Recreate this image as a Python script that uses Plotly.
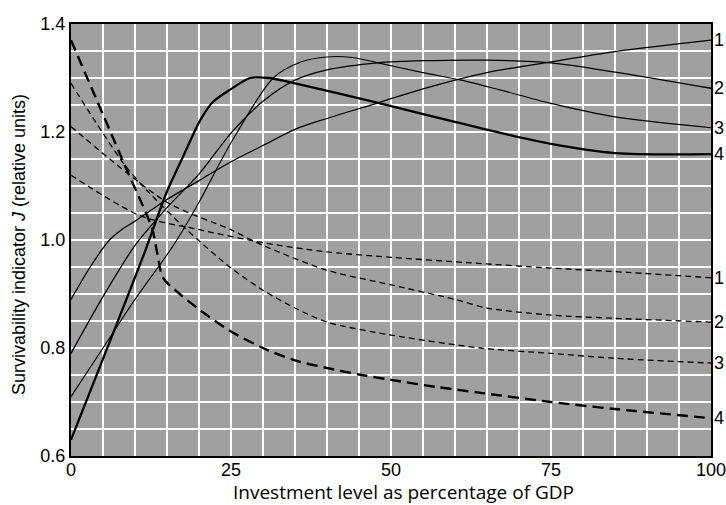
import plotly.graph_objects as go

# Survivability indicator J versus investment level (% of GDP)
# Solid curves 1-4
x_s1 = [0, 3, 6, 8, 10, 15, 20, 25, 30, 35, 40, 48, 55, 65, 75, 85, 100]
y_s1 = [0.89, 0.95, 1.0, 1.02, 1.035, 1.075, 1.11, 1.145, 1.175, 1.205, 1.225, 1.254, 1.28, 1.31, 1.33, 1.349, 1.37]

x_s2 = [0, 5, 10, 15, 20, 25, 30, 35, 40, 48, 55, 65, 75, 85, 100]
y_s2 = [0.79, 0.895, 0.99, 1.06, 1.122, 1.198, 1.257, 1.296, 1.315, 1.328, 1.332, 1.333, 1.328, 1.311, 1.281]

x_s3 = [0, 5, 10, 16, 20, 25, 31.6, 36, 40, 44, 48, 55, 61, 67, 75, 85, 100]
y_s3 = [0.71, 0.8, 0.89, 0.99, 1.07, 1.18, 1.30, 1.33, 1.339, 1.338, 1.328, 1.31, 1.296, 1.278, 1.253, 1.228, 1.208]

x_s4 = [0, 11.6, 14.9, 17.5, 20.2, 22.2, 24.8, 28, 31, 34, 48, 64, 75, 85, 100]
y_s4 = [0.63, 0.98, 1.087, 1.154, 1.222, 1.256, 1.278, 1.30, 1.30, 1.293, 1.254, 1.207, 1.178, 1.161, 1.159]

# Dashed curves 1-4
x_d1 = [0, 10.8, 19.7, 30, 40, 50, 62, 75, 87, 100]
y_d1 = [1.12, 1.045, 1.02, 0.995, 0.978, 0.968, 0.958, 0.948, 0.94, 0.93]

x_d2 = [0, 15, 24.8, 30, 40, 50, 60, 65, 75, 85, 100]
y_d2 = [1.21, 1.07, 1.02, 0.99, 0.944, 0.917, 0.89, 0.874, 0.861, 0.855, 0.848]

x_d3 = [0, 8.2, 12, 18, 24.8, 30, 35, 40, 50, 64, 75, 85, 100]
y_d3 = [1.29, 1.142, 1.09, 1.02, 0.95, 0.907, 0.874, 0.848, 0.824, 0.80, 0.79, 0.781, 0.772]

x_d4 = [0, 8.2, 12.7, 13.4, 14.4, 17, 20.2, 24.8, 30, 35, 40, 45, 50, 57, 64, 75, 85, 100]
y_d4 = [1.37, 1.144, 1.02, 0.98, 0.93, 0.90, 0.87, 0.832, 0.8, 0.777, 0.763, 0.751, 0.741, 0.728, 0.717, 0.70, 0.687, 0.67]

curve_labels = ["1", "2", "3", "4"]

x_ticks = [0, 25, 50, 75, 100]
y_ticks = [0.6, 0.8, 1.0, 1.2, 1.4]

x_title = "Investment level as percentage of GDP"
y_title = "Survivability indicator <i>J</i> (relative units)"

solid = [(x_s1, y_s1, 1.3), (x_s2, y_s2, 1.3), (x_s3, y_s3, 1.1), (x_s4, y_s4, 2.3)]
dashed = [(x_d1, y_d1, 1.3, "6px,4px"), (x_d2, y_d2, 1.3, "6px,4px"),
          (x_d3, y_d3, 1.3, "6px,4px"), (x_d4, y_d4, 2.4, "11px,6px")]

fig = go.Figure()
for xs, ys, w in solid:
    fig.add_trace(go.Scatter(x=xs, y=ys, mode="lines",
                             line=dict(color="black", width=w, shape="spline", smoothing=0.8),
                             showlegend=False, hoverinfo="skip"))
for xs, ys, w, d in dashed:
    fig.add_trace(go.Scatter(x=xs, y=ys, mode="lines",
                             line=dict(color="black", width=w, dash=d, shape="spline", smoothing=0.8),
                             showlegend=False, hoverinfo="skip"))

# Curve numbers at the right end of each curve
for group in (solid, dashed):
    for lab, item in zip(curve_labels, group):
        fig.add_annotation(x=100, y=item[1][-1], text=lab, showarrow=False,
                           xanchor="left", yanchor="middle", xshift=1,
                           font=dict(family="Liberation Sans, Arial", size=18, color="black"))

# Axis titles
fig.add_annotation(x=0.52, y=-0.083, xref="paper", yref="paper", text=x_title,
                   showarrow=False, xanchor="center", yanchor="middle",
                   font=dict(family="Open Sans", size=19, color="black"))
fig.add_annotation(x=-0.08, y=0.49, xref="paper", yref="paper", text=y_title,
                   showarrow=False, xanchor="center", yanchor="middle", textangle=-90,
                   font=dict(family="Liberation Sans, Arial", size=18, color="black"))

fig.update_layout(
    width=726, height=505,
    margin=dict(l=71, r=15, t=24, b=49),
    paper_bgcolor="white",
    plot_bgcolor="#a0a0a0",
    font=dict(family="Liberation Sans, Arial", size=18, color="black"),
)
fig.update_xaxes(
    range=[0, 100], tickvals=x_ticks, ticktext=[str(v) for v in x_ticks],
    showgrid=True, gridcolor="white", gridwidth=2,
    minor=dict(dtick=5, showgrid=True, gridcolor="white", gridwidth=2),
    showline=True, linecolor="black", linewidth=2, mirror=True,
    ticks="", zeroline=False, automargin=False, ticklabeloverflow="allow",
    ticklabelstandoff=-4,
)
fig.update_yaxes(
    range=[0.6, 1.4], tickvals=y_ticks, ticktext=["0.6", "0.8", "1.0", "1.2", "1.4"],
    showgrid=True, gridcolor="white", gridwidth=2,
    minor=dict(dtick=0.05, showgrid=True, gridcolor="white", gridwidth=2),
    showline=True, linecolor="black", linewidth=2, mirror=True,
    ticks="", zeroline=False, automargin=False,
)

fig.write_html("out.html")
